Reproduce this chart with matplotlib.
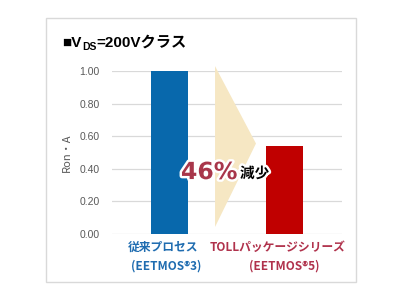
import numpy as np
import matplotlib.pyplot as plt
import matplotlib.patheffects as pe
from matplotlib.patches import Polygon, Rectangle

plt.rcParams['font.family'] = ['Noto Sans CJK JP', 'DejaVu Sans']

categories = [("従来プロセス", "(EETMOS®3)"), ("TOLLパッケージシリーズ", "(EETMOS®5)")]
values = [1.00, 0.54]
bar_colors = ["#0868AC", "#C00000"]
label_colors = ["#1F6CB0", "#B0324C"]
yticks = [0.0, 0.2, 0.4, 0.6, 0.8, 1.0]
reduction = "46%"

fig = plt.figure(figsize=(4.02, 3.0), dpi=100)
W, H = 402, 300

# outer frame
fig.patches.append(Rectangle((46 / W, 1 - 282 / H), 310 / W, 264 / H,
                             transform=fig.transFigure, fill=False,
                             edgecolor="#D9D9D9", linewidth=1.0))

ax = fig.add_axes([112 / W, 1 - 234 / H, 230 / W, 163 / H])
x = np.arange(len(values))
ax.bar(x, values, width=0.32, color=bar_colors, zorder=3)
ax.set_xlim(-0.5, 1.5)
ax.set_ylim(0, 1.0)
ax.set_yticks(yticks)
ax.set_yticklabels([f"{v:.2f}" for v in yticks], fontsize=7.5, color="#595959",
                   family="Liberation Sans")
ax.tick_params(axis="y", length=0, pad=9)
ax.tick_params(axis="x", length=0)
ax.set_xticks([])
ax.grid(axis="y", color="#D9D9D9", linewidth=0.9, zorder=0)
ax.set_axisbelow(True)
for s in ax.spines.values():
    s.set_visible(False)
ax.set_ylabel("Ron・A", fontsize=8, color="#595959")
ax.yaxis.set_label_coords(-0.175, 0.50)

# category labels (two lines each, centered slightly left of the bar)
xt = ax.get_xaxis_transform()
for xi, (l1, l2), c in zip(x, categories, label_colors):
    ax.text(xi - 0.06, -0.08, l1, ha="center", va="center", fontsize=8.5,
            fontweight="bold", color=c, transform=xt)
    ax.text(xi - 0.03 * (1 - xi), -0.195, l2, ha="center", va="center",
            fontsize=8.5, fontweight="bold", color=c, transform=xt)

# arrow shape between bars
arrow = Polygon([[0.396, 1.03], [0.752, values[1] + 0.015], [0.396, 0.043]],
                closed=True, facecolor="#F6E7C3", edgecolor="none",
                zorder=2, clip_on=False)
ax.add_patch(arrow)

stroke = [pe.withStroke(linewidth=3.5, foreground="white")]
ax.text(0.345, 0.38, reduction, ha="center", va="center", fontsize=17,
        fontweight="bold", color="#A8364A", path_effects=stroke, zorder=5,
        family="DejaVu Sans")
ax.text(0.74, 0.375, "減少", ha="center", va="center", fontsize=10.5,
        fontweight="bold", color="black", path_effects=stroke, zorder=5)

# title, built from pieces so the subscript and kana use proper fonts
tfam = ["Liberation Sans", "Noto Sans CJK JP", "DejaVu Sans"]
base = H - 47
t1 = fig.text(62, base, "■V", fontsize=11, fontweight="bold",
              va="baseline", ha="left", family=tfam, transform=None)
fig.canvas.draw()
r = fig.canvas.get_renderer()
bb1 = t1.get_window_extent(r)
t2 = fig.text(bb1.x1 + 0.5, base - 2.5, "DS", fontsize=7.5, fontweight="bold",
              va="baseline", ha="left", family=tfam, transform=None)
bb2 = t2.get_window_extent(r)
fig.text(bb2.x1 + 0.5, base, "=200Vクラス", fontsize=11, fontweight="bold",
         va="baseline", ha="left", family=tfam, transform=None)

fig.savefig("out.png", dpi=100)
